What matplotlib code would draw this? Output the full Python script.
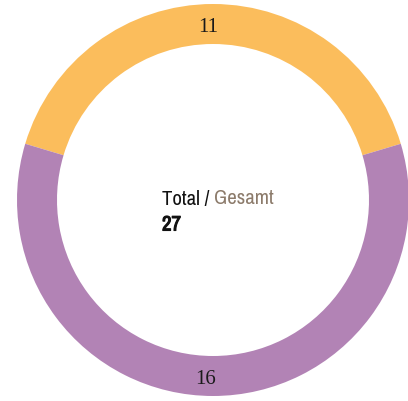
import matplotlib.pyplot as plt
import matplotlib.patheffects as pe

# slice data
labels = ["11", "16"]
values = [11, 16]
colors = ["#FBBD5C", "#B283B5"]
total_label = "27"

fig = plt.figure(figsize=(4.08, 4.01), dpi=100)
ax = fig.add_axes([0, 0, 1, 1])

# orange slice centred on the top
start = 90 + 360 * values[0] / sum(values) / 2
wedges, _ = ax.pie(values, colors=colors, startangle=start, counterclock=False,
                   center=(213, 201), radius=196,
                   wedgeprops=dict(width=40, linewidth=0))
# pie resets the limits, so set them afterwards
ax.set_xlim(0, 408)
ax.set_ylim(0, 401)
ax.set_aspect("equal")
ax.axis("off")

num_font = dict(family=["Liberation Serif", "DejaVu Serif"],
                fontsize=15, color="#1a1a1a")
ax.text(208, 373, labels[0], ha="center", va="center", **num_font)
ax.text(206, 21, labels[1], ha="center", va="center", **num_font)

fam = ["Archivo Narrow", "DejaVu Sans"]
ax.text(162, 202, "Total / ", ha="left", va="center", family=fam, fontsize=15, color="#111111")
t = ax.text(162, 202, "Total / ", ha="left", va="center", family=fam, fontsize=15, alpha=0)
fig.canvas.draw()
bb = t.get_window_extent()
x1 = ax.transData.inverted().transform((bb.x1, bb.y0))[0]
ax.text(x1, 202, "Gesamt", ha="left", va="center", family=fam, fontsize=15, color="#8C7B6B")
# no bold face installed for the narrow font -> thicken with a stroke
ax.text(162, 176, total_label, ha="left", va="center", family=fam, fontsize=15,
        fontweight="bold", color="#111111",
        path_effects=[pe.withStroke(linewidth=0.8, foreground="#111111")])

fig.savefig("out.png", dpi=100)
